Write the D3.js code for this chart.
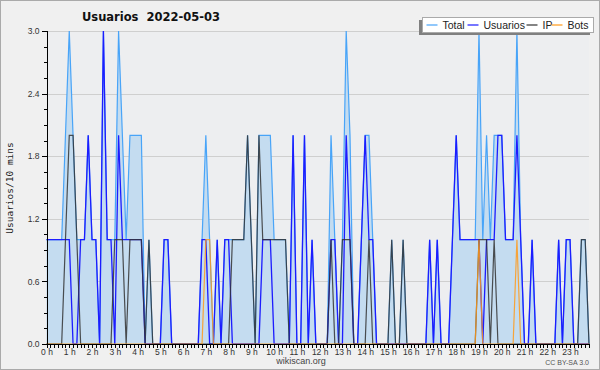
<!DOCTYPE html>
<meta charset="utf-8">
<style>
body { margin: 0; background: #fff; }
text { font-family: "Liberation Sans", Arial, sans-serif; }
.axis path, .axis line { stroke: #000; shape-rendering: crispEdges; }
.axis text { font-size: 8.5px; fill: #333; }
.grid line { stroke: #cfcfcf; shape-rendering: crispEdges; }
</style>
<svg width="600" height="370"></svg>
<script src="https://d3js.org/d3.v7.min.js"></script>
<script>

// 10-minute slots, 144 per day
var usuarios = [1,1,1,1,1,1,1,0,0,1, 1,2,1,1,0,3,1,1,0,2, 1,1,1,1,1,1,0,0,0,0,
                0,1,1,0,0,0,0,0,0,0, 0,1,1,0,0,1,0,1,1,0, 0,0,0,0,0,0,0,1,1,1,
                0,0,0,0,0,2,0,0,2,0, 1,0,0,0,0,1,1,0,0,2, 1,0,0,1,2,1,1,0,0,0,
                0,0,0,0,0,0,0,0,0,0, 0,1,0,1,0,0,0,1,2,1, 1,1,1,1,1,0,1,1,1,2,
                2,1,1,1,2,1,0,0,1,0, 0,0,0,0,0,1,0,1,1,0, 0,0,0,0];
var ip =       [0,0,0,0,0,1,2,2,1,0, 0,0,0,0,0,0,0,0,1,1, 1,0,1,1,1,1,0,1,0,0,
                0,0,0,0,0,0,0,0,0,0, 0,0,0,0,0,0,0,0,0,1, 1,1,1,2,1,0,2,1,1,1,
                1,1,1,1,0,0,0,0,0,0, 0,0,0,0,0,1,0,0,1,1, 1,0,0,0,0,1,0,0,0,0,
                0,1,0,0,1,0,0,0,0,0, 0,0,0,0,0,0,0,0,0,0, 0,0,0,0,1,1,1,0,1,0,
                0,0,0,0,0,0,0,0,0,0, 0,0,0,0,0,0,0,0,0,0, 0,1,1,0];
var bots =     [0,0,0,0,0,0,0,0,0,0, 0,0,0,0,0,0,0,0,0,0, 0,0,0,0,0,0,0,0,0,0,
                0,0,0,0,0,0,0,0,0,0, 0,0,1,1,0,0,0,0,0,0, 0,0,0,0,0,0,0,0,0,0,
                0,0,0,0,0,0,0,0,0,0, 0,0,0,0,0,0,0,0,0,0, 0,0,0,0,0,0,0,0,0,0,
                0,0,0,0,0,0,0,0,0,0, 0,0,0,0,0,0,0,0,0,0, 0,0,0,0,1,0,0,0,0,0,
                0,0,0,0,1,0,0,0,0,0, 0,0,0,0,0,0,0,0,0,0, 0,0,0,0];
var total = usuarios.map(function(d, i) { return d + ip[i] + bots[i]; });

var yTicks = [0, 0.6, 1.2, 1.8, 2.4, 3.0];
var legendNames = ["Total", "Usuarios", "IP", "Bots"];
var legendColors = ["#48a4f8", "#1c1cff", "#333333", "#ff9a1a"];

var svg = d3.select("svg"),
    width = +svg.attr("width"),
    height = +svg.attr("height");

var plotLeft = 46.5, plotRight = 589, plotTop = 31, plotBottom = 344;

svg.append("rect")
    .attr("x", 0.5).attr("y", 0.5)
    .attr("width", width - 1).attr("height", height - 1)
    .attr("fill", "#f0f0f0")
    .attr("stroke", "#aaa");

svg.append("rect")
    .attr("x", plotLeft).attr("y", plotTop)
    .attr("width", plotRight - plotLeft).attr("height", plotBottom - plotTop)
    .attr("fill", "#edeef0");

var x = d3.scaleLinear().domain([0, 143]).range([plotLeft, plotRight]);
var y = d3.scaleLinear().domain([0, 3]).range([plotBottom, plotTop]);

// grid
svg.append("g")
    .attr("class", "grid")
  .selectAll("line")
  .data(yTicks.slice(1))
  .enter().append("line")
    .attr("x1", plotLeft).attr("x2", plotRight)
    .attr("y1", function(d) { return Math.round(y(d)) + 0.5; })
    .attr("y2", function(d) { return Math.round(y(d)) + 0.5; });

var area = d3.area()
    .x(function(d, i) { return x(i); })
    .y0(y(0))
    .y1(function(d) { return y(d); });

var line = d3.line()
    .x(function(d, i) { return x(i); })
    .y(function(d) { return y(d); });

svg.append("path")
    .datum(total)
    .attr("d", area)
    .attr("fill", "#c4dcf0");

svg.append("path")
    .datum(total)
    .attr("d", line)
    .attr("fill", "none")
    .attr("stroke", legendColors[0])
    .attr("stroke-width", 1.2);

svg.append("path")
    .datum(usuarios)
    .attr("d", line)
    .attr("fill", "none")
    .attr("stroke", legendColors[1])
    .attr("stroke-width", 1.3);

svg.append("path")
    .datum(ip)
    .attr("d", line)
    .attr("fill", "none")
    .attr("stroke", legendColors[2])
    .attr("stroke-opacity", 0.85)
    .attr("stroke-width", 1.2);

svg.append("path")
    .datum(bots)
    .attr("d", line)
    .attr("fill", "none")
    .attr("stroke", legendColors[3])
    .attr("stroke-opacity", 0.85)
    .attr("stroke-width", 1.2);

// y axis
var yMinor = svg.append("g")
    .attr("class", "axis")
    .attr("transform", "translate(" + plotLeft + ",0)")
    .call(d3.axisLeft(y).tickValues(d3.range(0, 3.01, 0.15)).tickSize(3).tickFormat(""));
yMinor.select(".domain").remove();
svg.append("g")
    .attr("class", "axis")
    .attr("transform", "translate(" + plotLeft + ",0)")
    .call(d3.axisLeft(y).tickValues(yTicks).tickSize(5).tickPadding(2).tickFormat(d3.format(".1f")))
    .select(".domain").attr("d", "M0.5," + plotTop + "V" + plotBottom);

// x axis
var xAxis = svg.append("g")
    .attr("class", "axis")
    .attr("transform", "translate(0," + plotBottom + ")")
    .call(d3.axisBottom(x).tickValues(d3.range(144)).tickSize(4).tickPadding(1)
      .tickFormat(function(d) { return d % 6 === 0 ? (d / 6) + " h" : ""; }));
xAxis.select(".domain").attr("d", "M" + plotLeft + ",0.5H" + plotRight);

// title
svg.append("text")
    .attr("x", 151).attr("y", 21)
    .attr("text-anchor", "middle")
    .style("font-family", "'DejaVu Sans', sans-serif")
    .style("font-weight", "bold")
    .style("font-size", "11.5px")
    .style("white-space", "pre")
    .attr("fill", "#111")
    .text("Usuarios  2022-05-03");

svg.append("text")
    .attr("transform", "translate(13,188) rotate(-90)")
    .attr("text-anchor", "middle")
    .style("font-family", "'DejaVu Sans Mono', monospace")
    .style("font-size", "9.5px")
    .attr("fill", "#222")
    .text("Usuarios/10 mins");

svg.append("text")
    .attr("x", 301).attr("y", 364)
    .attr("text-anchor", "middle")
    .style("font-size", "9px")
    .attr("fill", "#444")
    .text("wikiscan.org");

svg.append("text")
    .attr("x", 589).attr("y", 365)
    .attr("text-anchor", "end")
    .style("font-size", "7px")
    .attr("fill", "#555")
    .text("CC BY-SA 3.0");

// legend
var lg = svg.append("g");
lg.append("rect")
    .attr("x", 419).attr("y", 20).attr("width", 171).attr("height", 15)
    .attr("fill", "#808080");
lg.append("rect")
    .attr("x", 422.5).attr("y", 17.5).attr("width", 171).attr("height", 15)
    .attr("fill", "#fff").attr("stroke", "#aaa");

var legendX = [426.5, 467.5, 526.5, 551.5];
var item = lg.selectAll(".item")
    .data(legendNames)
  .enter().append("g")
    .attr("class", "item")
    .attr("transform", function(d, i) { return "translate(" + legendX[i] + ",25)"; });
item.append("line")
    .attr("x1", 0).attr("x2", 11)
    .attr("stroke", function(d, i) { return legendColors[i]; })
    .attr("stroke-width", 1.2);
item.append("text")
    .attr("x", 16).attr("y", 3.5)
    .style("font-size", "10.5px")
    .attr("fill", "#222")
    .text(function(d) { return d; });

</script>
